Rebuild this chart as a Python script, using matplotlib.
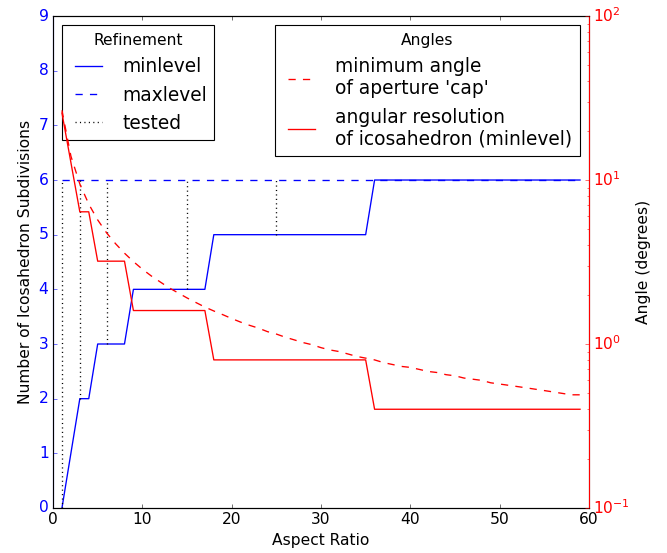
import matplotlib
matplotlib.use('Agg')
import matplotlib.pyplot as plt

plt.style.use('classic')
plt.rcParams['font.size'] = 14
plt.rcParams['lines.dashed_pattern'] = [6.5, 6.5]
plt.rcParams['lines.linewidth'] = 1.2

# aspect ratios tested (x) and refinement levels
aspect = list(range(1, 60))
minlevel = [0, 1, 2, 2, 3, 3, 3, 3,
            4, 4, 4, 4, 4, 4, 4, 4, 4,
            5, 5, 5, 5, 5, 5, 5, 5, 5, 5, 5, 5, 5, 5, 5, 5, 5, 5,
            6, 6, 6, 6, 6, 6, 6, 6, 6, 6, 6, 6, 6, 6, 6, 6, 6, 6, 6, 6, 6, 6, 6, 6]
maxlevel = [6] * len(aspect)
tested = [1, 3, 6, 15, 25]

# angles in degrees
cap_angle = [26.6, 14.0, 9.46, 7.13, 5.71, 4.76, 4.09, 3.58, 3.18, 2.86,
             2.60, 2.39, 2.20, 2.05, 1.91, 1.79, 1.68, 1.59, 1.51, 1.43,
             1.36, 1.30, 1.25, 1.19, 1.15, 1.10, 1.06, 1.02, 0.99, 0.95,
             0.92, 0.90, 0.87, 0.84, 0.82, 0.80, 0.77, 0.75, 0.73, 0.72,
             0.70, 0.68, 0.67, 0.65, 0.64, 0.62, 0.61, 0.60, 0.58, 0.57,
             0.56, 0.55, 0.54, 0.53, 0.52, 0.51, 0.50, 0.49, 0.49]
level_angle = [25.6, 12.8, 6.4, 3.2, 1.6, 0.8, 0.4]
resolution = [level_angle[m] for m in minlevel]

fig = plt.figure(figsize=(667 / 80, 553 / 80), dpi=80)
ax1 = fig.add_axes([0.0795, 0.0814, 0.8035, 0.8896])

l1, = ax1.plot(aspect, minlevel, 'b-', label='minlevel')
l2, = ax1.plot(aspect, maxlevel, 'b--', label='maxlevel')
lo = [minlevel[aspect.index(t)] for t in tested]
ax1.vlines(tested, lo, [6] * len(tested), colors='k', linestyles=':')
l3, = ax1.plot([], [], 'k:', label='tested')

ax1.set_xlim(0, 60)
ax1.set_ylim(0, 9)
ax1.set_xlabel('Aspect Ratio')
ax1.set_ylabel('Number of Icosahedron Subdivisions')
ax1.tick_params(axis='y', colors='b')
ax1.spines['left'].set_color('b')

leg1 = ax1.legend(handles=[l1, l2, l3], loc='upper left', title='Refinement',
                  fontsize='large')
leg1.get_title().set_fontsize(14)

ax2 = ax1.twinx()
r1, = ax2.semilogy(aspect, cap_angle, 'r--',
                   label="minimum angle\nof aperture 'cap'")
r2, = ax2.semilogy(aspect, resolution, 'r-',
                   label='angular resolution\nof icosahedron (minlevel)')
ax2.set_ylim(0.1, 100)
ax2.set_xlim(0, 60)
ax2.set_ylabel('Angle (degrees)')
ax2.tick_params(axis='y', which='both', colors='r')
ax2.spines['right'].set_color('r')

leg2 = ax2.legend(handles=[r1, r2], loc='upper right', title='Angles',
                  fontsize='large')
leg2.get_title().set_fontsize(14)

fig.savefig('out.png', dpi=80, facecolor='white')
